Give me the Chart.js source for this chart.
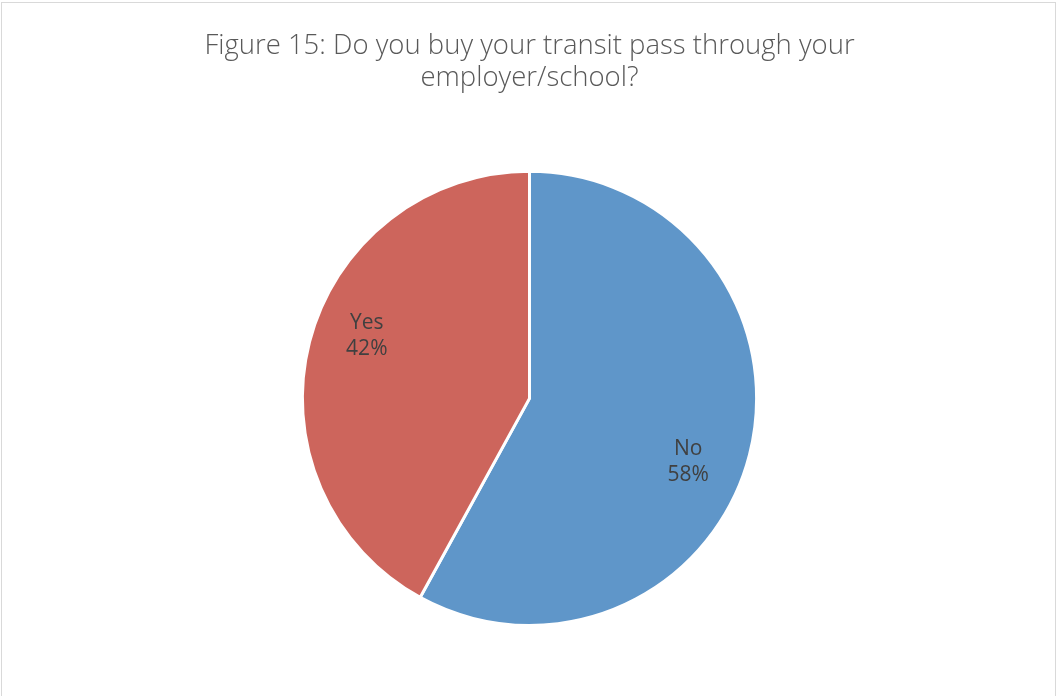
<!DOCTYPE html>
<html>
<head>
<meta charset="utf-8">
<title>Transit pass purchase</title>
<script src="https://cdn.jsdelivr.net/npm/chart.js@4/dist/chart.umd.min.js"></script>
<style>
  html, body { margin: 0; padding: 0; background: #fff; }
  #wrap { width: 1057px; height: 696px; position: relative; }
</style>
</head>
<body>
<div id="wrap"><canvas id="chart" width="1057" height="696"></canvas></div>
<script>
const titleLines = ['Figure 15: Do you buy your transit pass through your', 'employer/school?'];
const categories = ['No', 'Yes'];
const shares = [58, 42];
const sliceColors = ['#5F96C9', '#CD655C'];

// Percentage labels sit inside each slice, nudged a little clockwise
const sliceLabels = {
    id: 'sliceLabels',
    afterDatasetsDraw(chart) {
        const ctx = chart.ctx;
        const meta = chart.getDatasetMeta(0);
        ctx.save();
        ctx.fillStyle = '#404040';
        ctx.font = '21px "Open Sans", sans-serif';
        ctx.textAlign = 'center';
        ctx.textBaseline = 'middle';
        meta.data.forEach((arc, i) => {
            const p = arc.getProps(['x', 'y', 'startAngle', 'endAngle', 'outerRadius'], true);
            const mid = (p.startAngle + p.endAngle) / 2 + 7 * Math.PI / 180;
            const r = p.outerRadius * 0.76;
            const cx = p.x + Math.cos(mid) * r;
            const cy = p.y + Math.sin(mid) * r;
            ctx.fillText(categories[i], cx - 2, cy - 12);
            ctx.fillText(shares[i] + '%', cx - 2, cy + 14);
        });
        ctx.restore();
    }
};

// Thin frame round the chart
const frame = {
    id: 'frame',
    beforeDraw(chart) {
        const ctx = chart.ctx;
        ctx.save();
        ctx.strokeStyle = '#D9D9D9';
        ctx.lineWidth = 1;
        ctx.strokeRect(1.5, 2.5, 1054, 710);
        ctx.restore();
    }
};

new Chart(document.getElementById('chart'), {
    type: 'pie',
    data: {
        labels: categories,
        datasets: [{
            data: shares,
            backgroundColor: sliceColors,
            borderColor: '#FFFFFF',
            borderWidth: 3
        }]
    },
    options: {
        responsive: false,
        animation: false,
        layout: { padding: { top: 0, bottom: 69, left: 2, right: 0 } },
        plugins: {
            legend: { display: false },
            tooltip: { enabled: false },
            title: {
                display: true,
                text: titleLines,
                color: '#595959',
                font: { family: '"Open Sans", sans-serif', size: 27.5, weight: 300, lineHeight: 1.16 },
                padding: { top: 30, bottom: 76 }
            }
        }
    },
    plugins: [frame, sliceLabels]
});
</script>
</body>
</html>
